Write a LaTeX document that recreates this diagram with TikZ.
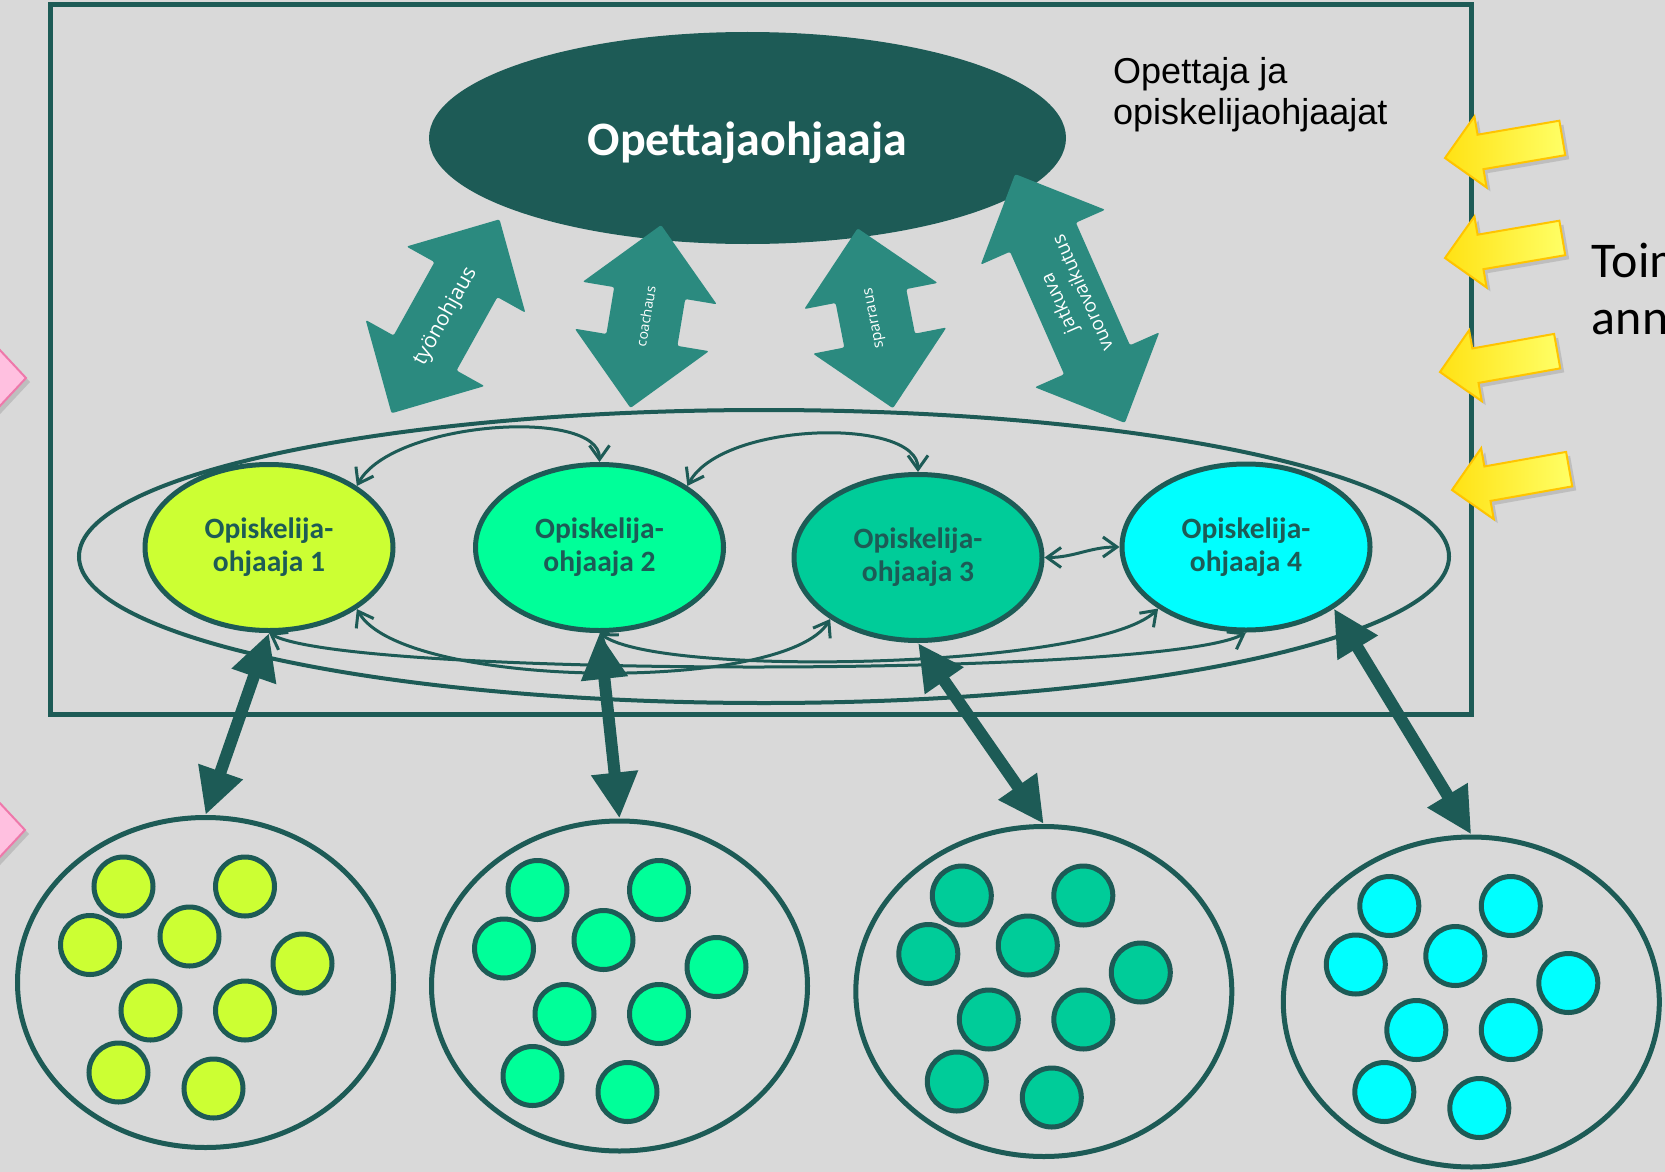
\documentclass[tikz,border=0pt]{standalone}
\usepackage{fontspec}
\usetikzlibrary{shapes.geometric, arrows.meta, shadows}

\newfontfamily\opensans{Open Sans}
\newfontfamily\carlito{Carlito}
\newfontfamily\arialfont{Liberation Sans}

\definecolor{tausta}{RGB}{217,217,217}
\definecolor{tumma}{RGB}{29,91,86}
\definecolor{turkoosi}{RGB}{43,138,127}
\definecolor{vari1}{RGB}{204,255,51}
\definecolor{vari2}{RGB}{0,255,153}
\definecolor{vari3}{RGB}{0,204,153}
\definecolor{vari4}{RGB}{0,255,255}
\definecolor{keltainen1}{RGB}{255,226,20}
\definecolor{keltainen2}{RGB}{255,255,102}
\definecolor{oranssi}{RGB}{255,196,0}
\definecolor{pinkki}{RGB}{255,192,224}
\definecolor{pinkkireuna}{RGB}{238,120,170}

\tikzstyle{kehys} = [draw=tumma, line width=5pt]
\tikzstyle{opettaja} = [ellipse, fill=tumma, minimum width=637pt, minimum height=212pt, text=white, text height=34pt, text depth=0pt, font=\carlito\bfseries\fontsize{48}{56}\selectfont]
\tikzstyle{piiri} = [ellipse, draw=tumma, line width=4pt, minimum width=1370pt, minimum height=293pt]
\tikzstyle{ohjaaja} = [ellipse, draw=tumma, line width=5pt, minimum width=248pt, minimum height=166pt, align=center, text=tumma, font=\carlito\bfseries\fontsize{29.5}{33}\selectfont]
\tikzstyle{ryhma} = [ellipse, draw=tumma, line width=5pt, minimum width=376pt, minimum height=330pt]
\tikzstyle{pallo} = [circle, draw=tumma, line width=5pt, minimum size=59pt, inner sep=0pt]
\tikzstyle{yhteys} = [<->, >={Straight Barb[length=14pt,width=20pt]}, draw=tumma, line width=3pt]
\tikzstyle{paksu} = [<->, >={Triangle[length=46pt,width=44pt]}, draw=tumma, line width=12pt]
\tikzstyle{tupla} = [fill=turkoosi, rounded corners=2pt]
\tikzstyle{nuoliteksti} = [text=white, align=center, inner sep=0pt]
\tikzstyle{keltainen} = [left color=keltainen1, right color=keltainen2, draw=oranssi, line width=2pt, drop shadow={shadow xshift=4pt, shadow yshift=-4pt, opacity=.3}]
\tikzstyle{pinkkikarki} = [fill=pinkki, draw=pinkkireuna, line width=2pt, drop shadow={shadow xshift=4pt, shadow yshift=-4pt, opacity=.3}]

% center, angle, half length, name, font size, label
\newcommand{\tuplanuoli}[6]{%
    \begin{scope}[shift={#1}, rotate=#2]
        \fill[tupla] (#3,0) -- (#3-69,68) -- (#3-69,36) -- (-#3+69,36) -- (-#3+69,68) -- (-#3,0)
            -- (-#3+69,-68) -- (-#3+69,-36) -- (#3-69,-36) -- (#3-69,-68) -- cycle;
        \node (#4) [nuoliteksti, rotate=#2, font=\opensans\fontsize{#5}{26}\selectfont] at (0,0) {#6};
    \end{scope}}

% tip, angle
\newcommand{\keltanuoli}[2]{%
    \draw[keltainen, shift={#1}, rotate=#2] (0,0) -- (36,-36) -- (36,-17.5) -- (119,-17.5) -- (119,17.5) -- (36,17.5) -- (36,36) -- cycle;}

% tip
\newcommand{\pinkkinuoli}[1]{%
    \draw[pinkkikarki, shift={#1}] (0,0) -- (-56,-60) -- (-56,60) -- cycle;}

\begin{document}
\begin{tikzpicture}[x=1pt, y=-1pt]

    \useasboundingbox (0,0) rectangle (1665,1172);
    \fill[tausta] (0,0) rectangle (1665,1172);

    \draw[kehys] (50,5) rectangle (1471,714);

    \node (piiri) [piiri] at (764,556.5) {};
    \node (opettaja) [opettaja] at (747.5,138) {Opettajaohjaaja};

    \tuplanuoli{(445.5,316.3)}{60.9}{111}{tyonohjaus}{21}{työnohjaus}
    \tuplanuoli{(645.8,316.5)}{80.5}{92.75}{coachaus}{14}{coachaus}
    \tuplanuoli{(875.3,318.3)}{101.1}{91.7}{sparraus}{15}{sparraus}
    \tuplanuoli{(1070,298.5)}{113.8}{136}{vuorovaikutus}{19}{jatkuva\\vuorovaikutus}

    \node (o1) [ohjaaja, fill=vari1] at (269,547.5) {Opiskelija-\\ohjaaja 1};
    \node (o2) [ohjaaja, fill=vari2] at (599.5,547.5) {Opiskelija-\\ohjaaja 2};
    \node (o3) [ohjaaja, fill=vari3] at (918,557.5) {Opiskelija-\\ohjaaja 3};
    \node (o4) [ohjaaja, fill=vari4] at (1246,547) {Opiskelija-\\ohjaaja 4};

    \draw[yhteys] (o1.35) .. controls +(35,-65) and +(0,-55) .. (o2.90);
    \draw[yhteys] (o2.35) .. controls +(35,-65) and +(0,-55) .. (o3.90);
    \draw[yhteys] (o3.0) to[out=0, in=180] (o4.180);
    \draw[yhteys] (o1.325) .. controls +(45,80) and +(-45,75) .. (o3.215);
    \draw[yhteys] (o1.270) .. controls +(80,45) and +(-80,45) .. (o4.270);
    \draw[yhteys] (o2.270) .. controls +(60,45) and +(-60,60) .. (o4.215);

    \node (g1) [ryhma] at (205.5,982.5) {};
    \node (g2) [ryhma] at (619.5,986) {};
    \node (g3) [ryhma] at (1043.8,991.5) {};
    \node (g4) [ryhma] at (1471.3,1002) {};

    \foreach \g/\vari in {g1/vari1, g2/vari2, g3/vari3, g4/vari4}
        \foreach \dx/\dy [count=\i] in {-82/-96, 39.5/-96, -115.5/-37.5, -16/-46, 97/-19, -55/28, 39.5/28, -87/90, 8/106}
            \node (\g-\i) [pallo, fill=\vari] at ([shift={(\dx,\dy)}]\g.center) {};

    \draw[paksu] (o1.270) -- (g1.90);
    \draw[paksu] (o2.270) -- (g2.90);
    \draw[paksu] (o3.270) -- (g3.90);
    \draw[paksu] (o4.325) -- (g4.90);

    \keltanuoli{(1445,158)}{9.7}
    \keltanuoli{(1445,258)}{9.7}
    \keltanuoli{(1440,372)}{10.1}
    \keltanuoli{(1452,490)}{10.1}

    \pinkkinuoli{(26,378)}
    \pinkkinuoli{(25,830)}

    \node (selite) [anchor=north west, inner sep=0pt, align=left, font=\arialfont\fontsize{36}{41.7}\selectfont] at (1113,57) {Opettaja ja\\opiskelijaohjaajat};
    \node (toim) [anchor=north west, inner sep=0pt, align=left, font=\carlito\fontsize{50}{57}\selectfont] at (1591.7,243) {Toim\\ann};

\end{tikzpicture}
\end{document}
